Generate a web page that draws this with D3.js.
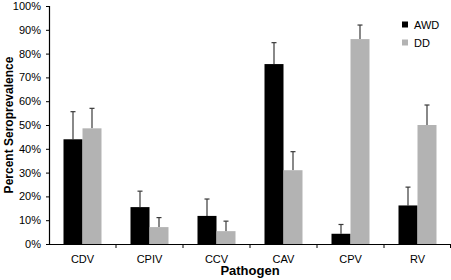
<!DOCTYPE html>
<html>
<head>
<meta charset="utf-8">
<script src="https://cdn.jsdelivr.net/npm/d3@7"></script>
<style>
  body { margin: 0; background: #fff; }
  text { font-family: Arial, "Liberation Sans", sans-serif; }
</style>
</head>
<body>
<div id="chart"></div>
<script>
const pathogens = ["CDV", "CPIV", "CCV", "CAV", "CPV", "RV"];
const groups = ["AWD", "DD"];
const awdValues = [44, 15.5, 11.8, 75.6, 4.3, 16.2];
const awdErrors = [55.6, 22.2, 18.9, 84.6, 8.2, 23.9];
const ddValues = [48.6, 7.1, 5.4, 31, 86.1, 50];
const ddErrors = [57, 11.1, 9.6, 38.8, 92, 58.4];
const yTicks = [0, 10, 20, 30, 40, 50, 60, 70, 80, 90, 100];

const width = 451, height = 280;
const margin = { top: 6, right: 0, bottom: 36, left: 49 };

const colors = d3.scaleOrdinal().domain(groups).range(["#000000", "#b3b3b3"]);

const svg = d3.select("#chart").append("svg")
    .attr("width", width)
    .attr("height", height);

const x = d3.scaleBand()
    .domain(pathogens)
    .range([margin.left, width - margin.right]);

const xInner = d3.scaleBand()
    .domain(groups)
    .range([0, 38]);

const y = d3.scaleLinear()
    .domain([0, 100])
    .range([height - margin.bottom, margin.top]);

const rows = pathogens.map((p, i) => ({
    pathogen: p,
    bars: [
        { group: "AWD", value: awdValues[i], err: awdErrors[i] },
        { group: "DD", value: ddValues[i], err: ddErrors[i] },
    ],
}));

const g = svg.selectAll(".grp").data(rows).enter().append("g")
    .attr("class", "grp")
    .attr("transform", (d) => `translate(${x(d.pathogen) + x.bandwidth() / 2 - 19},0)`);

// error bars (upward only)
const eb = g.selectAll(".err").data((d) => d.bars).enter().append("g").attr("class", "err")
    .attr("stroke", "#3a3a3a")
    .attr("stroke-width", 1.2);
eb.append("line")
    .attr("x1", (d) => xInner(d.group) + xInner.bandwidth() / 2)
    .attr("x2", (d) => xInner(d.group) + xInner.bandwidth() / 2)
    .attr("y1", (d) => y(d.value))
    .attr("y2", (d) => y(d.err));
eb.append("line")
    .attr("x1", (d) => xInner(d.group) + xInner.bandwidth() / 2 - 2.5)
    .attr("x2", (d) => xInner(d.group) + xInner.bandwidth() / 2 + 2.5)
    .attr("y1", (d) => y(d.err))
    .attr("y2", (d) => y(d.err));

g.selectAll("rect").data((d) => d.bars).enter().append("rect")
    .attr("x", (d) => xInner(d.group))
    .attr("width", xInner.bandwidth())
    .attr("y", (d) => y(d.value))
    .attr("height", (d) => y(0) - y(d.value))
    .attr("fill", (d) => colors(d.group));

// y axis
const yAxis = svg.append("g")
    .attr("transform", `translate(${margin.left},0)`)
    .call(d3.axisLeft(y).tickValues(yTicks).tickSize(3).tickPadding(5).tickFormat((d) => d + "%"));
yAxis.select(".domain").attr("stroke", "#000").attr("stroke-width", 1.2);
yAxis.selectAll(".tick line").attr("stroke", "#000");
yAxis.selectAll(".tick text")
    .attr("font-size", 11)
    .attr("font-family", "Arial, 'Liberation Sans', sans-serif")
    .attr("fill", "#000");

// x axis
const xAxis = svg.append("g")
    .attr("transform", `translate(0,${y(0)})`)
    .call(d3.axisBottom(x).tickSize(0).tickPadding(11));
xAxis.select(".domain").attr("stroke", "#000").attr("stroke-width", 1.2);
xAxis.selectAll(".tick text")
    .attr("font-size", 11)
    .attr("font-family", "Arial, 'Liberation Sans', sans-serif")
    .attr("fill", "#000");
// category separator ticks
svg.append("g").selectAll("line")
    .data(pathogens.slice(1).concat(["end"]))
    .enter().append("line")
    .attr("x1", (d) => d === "end" ? x.range()[1] - 0.5 : x(d))
    .attr("x2", (d) => d === "end" ? x.range()[1] - 0.5 : x(d))
    .attr("y1", y(0))
    .attr("y2", y(0) + 4)
    .attr("stroke", "#000");

// axis titles
svg.append("text")
    .attr("transform", `translate(13,${(y(0) + y(100)) / 2}) rotate(-90)`)
    .attr("text-anchor", "middle")
    .attr("font-size", 12)
    .attr("font-weight", "bold")
    .text("Percent Seroprevalence");

svg.append("text")
    .attr("x", 250)
    .attr("y", 275)
    .attr("text-anchor", "middle")
    .attr("font-size", 13)
    .attr("font-weight", "bold")
    .text("Pathogen");

// legend
const legend = svg.append("g").attr("transform", "translate(402,20)");
const li = legend.selectAll("g").data(groups).enter().append("g")
    .attr("transform", (d, i) => `translate(0,${i * 18})`);
li.append("rect").attr("width", 6).attr("height", 6).attr("y", 1.5).attr("fill", (d) => colors(d));
li.append("text").attr("x", 12).attr("y", 8.5).attr("font-size", 11).text((d) => d);
</script>
</body>
</html>
